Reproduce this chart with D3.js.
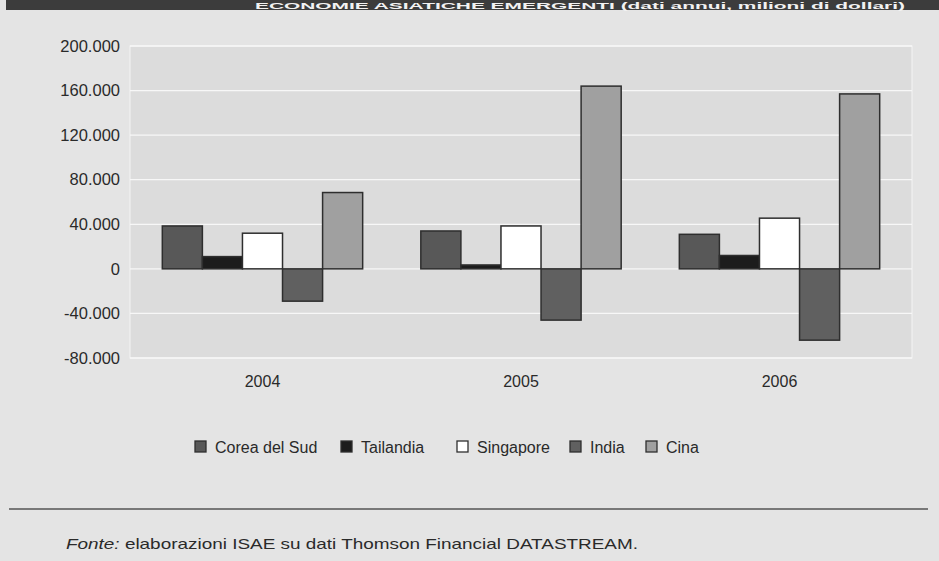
<!DOCTYPE html>
<html><head><meta charset="utf-8">
<script src="https://cdn.jsdelivr.net/npm/d3@7"></script>
<style>
body{margin:0;background:#e3e3e3;}
svg{display:block;font-family:"Liberation Sans",Arial,Helvetica,sans-serif;}
</style></head>
<body><svg id="c" width="939" height="561"></svg>
<script>
const years = ["2004","2005","2006"];
const seriesNames = ["Corea del Sud","Tailandia","Singapore","India","Cina"];
const seriesColors = ["#585858","#1c1c1c","#ffffff","#606060","#a0a0a0"];
const koreaValues = [38500, 34000, 31000];
const thailandValues = [11000, 3500, 12000];
const singaporeValues = [32000, 38500, 45500];
const indiaValues = [-29000, -46000, -64000];
const chinaValues = [68500, 164000, 157000];
const yTicks = [-80000,-40000,0,40000,80000,120000,160000,200000];
const titleText = "ECONOMIE ASIATICHE EMERGENTI (dati annui, milioni di dollari)";
const sourceText = " elaborazioni ISAE su dati Thomson Financial DATASTREAM.";

const allValues = [koreaValues, thailandValues, singaporeValues, indiaValues, chinaValues];
const svg = d3.select("#c");
const W = 939, H = 561;
const plot = {left:130, right:912, top:46, bottom:358};

svg.append("rect").attr("width",W).attr("height",H).attr("fill","#e4e4e4");
// title bar
svg.append("rect").attr("x",6).attr("y",0).attr("width",W-6).attr("height",10).attr("fill","#3c3c3c");
svg.append("text").attr("x",255).attr("y",8.5)
  .attr("textLength",650).attr("lengthAdjust","spacingAndGlyphs")
  .attr("fill","#f2f2f2").attr("font-weight","bold").attr("font-size",9).text(titleText);

// plot area
svg.append("rect").attr("x",plot.left).attr("y",plot.top)
  .attr("width",plot.right-plot.left).attr("height",plot.bottom-plot.top)
  .attr("fill","#dcdcdc").attr("stroke","#f4f4f4").attr("stroke-width",1);

const y = d3.scaleLinear().domain([-80000,200000]).range([plot.bottom,plot.top]);
const x0 = d3.scaleBand().domain(years).range([plot.left,plot.right]).paddingInner(0.225).paddingOuter(0.125);
const x1 = d3.scaleBand().domain(seriesNames).range([0,x0.bandwidth()]);

// grid
svg.append("g").selectAll("line").data(yTicks).join("line")
  .attr("x1",plot.left).attr("x2",plot.right)
  .attr("y1",d=>y(d)).attr("y2",d=>y(d))
  .attr("stroke","#f7f7f7").attr("stroke-width",1.3);

// y axis labels (hyphen minus, dot thousands separator)
const fmt = d => d===0 ? "0" : (d<0?"-":"") + d3.format(",")(Math.abs(d)).replace(/,/g,".");
const yAxis = d3.axisLeft(y).tickValues(yTicks).tickFormat(fmt).tickSize(0).tickPadding(10);
const ga = svg.append("g").attr("transform",`translate(${plot.left},0)`).call(yAxis);
ga.select(".domain").remove();
ga.selectAll("text").attr("font-size",16.5).attr("fill","#2a2a2a").attr("font-family","Liberation Sans, Arial, sans-serif");

// bars
const groups = svg.append("g").selectAll("g").data(years).join("g")
  .attr("transform",d=>`translate(${x0(d)},0)`);
groups.selectAll("rect").data((d,i)=>seriesNames.map((s,j)=>({s, v:allValues[j][i], c:seriesColors[j]})))
  .join("rect")
  .attr("x",d=>x1(d.s)).attr("width",x1.bandwidth())
  .attr("y",d=>y(Math.max(0,d.v))).attr("height",d=>Math.abs(y(d.v)-y(0)))
  .attr("fill",d=>d.c).attr("stroke","#2e2e2e").attr("stroke-width",1.5);

// x labels
const xAxis = d3.axisBottom(x0).tickSize(0).tickPadding(0);
const gx = svg.append("g").attr("transform",`translate(0,${plot.bottom+18})`).call(xAxis);
gx.select(".domain").remove();
gx.selectAll("text").attr("font-size",16).attr("fill","#2a2a2a").attr("dy","0.71em").attr("font-family","Liberation Sans, Arial, sans-serif");

// legend
const legendX = [195,341,457,570,646];
const lg = svg.append("g").selectAll("g").data(seriesNames).join("g")
  .attr("transform",(d,i)=>`translate(${legendX[i]},441)`);
lg.append("rect").attr("width",11).attr("height",11).attr("fill",(d,i)=>seriesColors[i])
  .attr("stroke","#2e2e2e").attr("stroke-width",1.3);
lg.append("text").attr("x",20).attr("y",6).attr("dy","0.35em").attr("font-size",16)
  .attr("fill","#2a2a2a").text(d=>d);

// footer
svg.append("line").attr("x1",9).attr("x2",928).attr("y1",509).attr("y2",509)
  .attr("stroke","#555").attr("stroke-width",1.5);
const ft = svg.append("text").attr("x",66).attr("y",549).attr("font-size",15)
  .attr("textLength",572).attr("lengthAdjust","spacingAndGlyphs").attr("fill","#2a2a2a");
ft.append("tspan").attr("font-style","italic").text("Fonte:");
ft.append("tspan").text(sourceText);
</script></body></html>
